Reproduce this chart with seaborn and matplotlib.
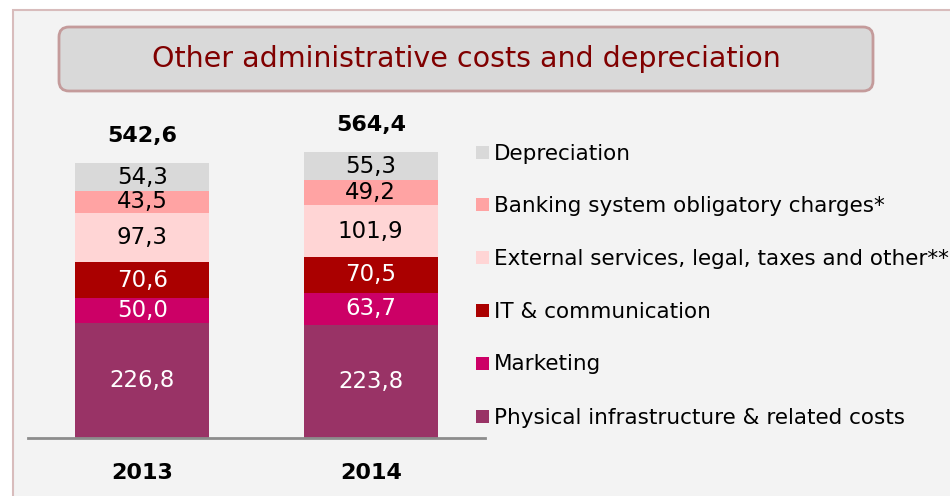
import matplotlib
matplotlib.use("Agg")
import matplotlib.pyplot as plt
from matplotlib.patches import FancyBboxPatch, Rectangle
from matplotlib.transforms import Affine2D
import numpy as np
import pandas as pd
import seaborn as sns

# ---- data -------------------------------------------------------------
years = ["2013", "2014"]
categories = [
    "Physical infrastructure & related costs",
    "Marketing",
    "IT & communication",
    "External services, legal, taxes and other**",
    "Banking system obligatory charges*",
    "Depreciation",
]
physical = [226.8, 223.8]
marketing = [50.0, 63.7]
it_comm = [70.6, 70.5]
external = [97.3, 101.9]
banking = [43.5, 49.2]
depreciation = [54.3, 55.3]
totals = [542.6, 564.4]

segments = [physical, marketing, it_comm, external, banking, depreciation]
colors = ["#993366", "#cc0066", "#aa0000", "#ffd5d5", "#ffa3a3", "#d9d9d9"]
text_colors = ["white", "white", "white", "black", "black", "black"]

FONT = "DejaVu Sans"

# ---- figure -------------------------------------------------------------
W, H = 950, 496
fig = plt.figure(figsize=(W / 100, H / 100), dpi=100)
fig.patch.set_facecolor("white")

# pixel coordinates measured from the top-left corner
px = Affine2D().scale(1, -1).translate(0, H).scale(1 / W, 1 / H) + fig.transFigure

# slide panel
fig.patches.append(Rectangle((12.5, 9.5), 1000, 600, transform=px,
                             facecolor="#f3f3f3", edgecolor="#d8bcbc", lw=1.5,
                             zorder=-10))

# title box
fig.patches.append(FancyBboxPatch((59, 27), 814, 64,
                                  boxstyle="round,pad=0,rounding_size=10",
                                  transform=px, facecolor="#d9d9d9",
                                  edgecolor="#c49b9b", lw=2, zorder=-5))
fig.text(466, 59, "Other administrative costs and depreciation", transform=px,
         ha="center", va="center", color="#800000", fontsize=20.5, family=FONT)

# ---- stacked bars -------------------------------------------------------
base_px = 438
top_px = 130
k = 0.506  # pixels per unit
ax = fig.add_axes([28 / W, (H - base_px) / H, (485 - 28) / W, (base_px - top_px) / H])
ax.set_facecolor("none")

data = pd.DataFrame({"year": years})
cum = np.zeros(len(years))
cums = []
for seg in segments:
    cum = cum + np.array(seg)
    cums.append(cum.copy())

# draw cumulative heights from tallest to shortest so lower layers overlay
for i in range(len(segments) - 1, -1, -1):
    data["value"] = cums[i]
    sns.barplot(data=data, x="year", y="value", order=years, color=colors[i],
                saturation=1, width=0.587, errorbar=None, linewidth=0, ax=ax)

ax.set_xlim(-0.5, 1.5)
ax.set_ylim(0, (base_px - top_px) / k)

# segment value labels
for j in range(len(years)):
    bottom = 0.0
    for i, seg in enumerate(segments):
        v = seg[j]
        ax.text(j, bottom + v / 2, f"{v:.1f}".replace(".", ","), ha="center",
                va="center", color=text_colors[i], fontsize=16.5, family=FONT)
        bottom += v

# totals
for j, t in enumerate(totals):
    ax.annotate(f"{t:.1f}".replace(".", ","), xy=(j, cums[-1][j]),
                xytext=(0, 27 * 0.72), textcoords="offset points",
                ha="center", va="center", fontsize=16, fontweight="bold",
                family=FONT)

for s in ["left", "right", "top"]:
    ax.spines[s].set_visible(False)
ax.spines["bottom"].set_color("#8c8c8c")
ax.spines["bottom"].set_linewidth(2)
ax.set_yticks([])
ax.set_xlabel("")
ax.set_ylabel("")
ax.tick_params(axis="x", length=0, pad=18)
for lab in ax.get_xticklabels():
    lab.set_fontsize(16)
    lab.set_fontweight("bold")
    lab.set_family(FONT)

# ---- legend ---------------------------------------------------------------
row_centers = [416, 363, 310, 257.5, 204.5, 152.5]
for i, name in enumerate(categories):
    c = row_centers[i]
    fig.patches.append(Rectangle((476, c - 6.5), 13, 13, transform=px,
                                 facecolor=colors[i], edgecolor="none"))
    fig.text(494, c + 7.5, name, transform=px, ha="left", va="baseline",
             fontsize=15.5, family=FONT, color="black")

fig.savefig("out.png", dpi=100)
